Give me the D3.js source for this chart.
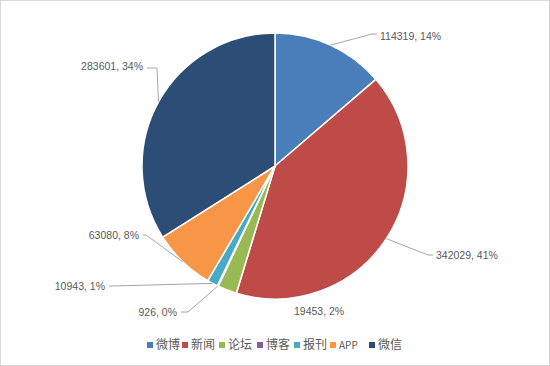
<!DOCTYPE html>
<html><head><meta charset="utf-8">
<script src="https://cdn.jsdelivr.net/npm/d3@7"></script>
<style>
html,body{margin:0;padding:0;background:#fff;}
svg{display:block;}
</style></head>
<body>
<svg id="chart" width="550" height="366"></svg>
<script>
const categories = ["微博","新闻","论坛","博客","报刊","APP","微信"];
const values = [114319, 342029, 19453, 926, 10943, 63080, 283601];
const percents = ["14%","41%","2%","0%","1%","8%","34%"];
const colors = ["#4a7ebb","#be4b48","#98b954","#7d60a0","#46aac4","#f79646","#2c4d75"];

// label layout (text anchor point, elbow point) relative to chart
const labelLayout = [
  {tx:380, ty:36, anchor:"start", elbow:[372,34], line:true},
  {tx:436, ty:255, anchor:"start", elbow:[428,255], line:true},
  {tx:294, ty:311, anchor:"start", elbow:null, line:false},
  {tx:177, ty:312, anchor:"end", elbow:[188,312], line:true},
  {tx:105, ty:286, anchor:"end", elbow:[112,286], line:true},
  {tx:139, ty:235, anchor:"end", elbow:[146,235], line:true},
  {tx:143, ty:66, anchor:"end", elbow:[157,68], line:true}
];

const svg = d3.select("#chart");
svg.append("rect").attr("x",0.5).attr("y",0.5).attr("width",549).attr("height",365)
  .attr("fill","#fff").attr("stroke","#d9d9d9");

const cx = 275, cy = 166, r = 133;
const g = svg.append("g").attr("transform",`translate(${cx},${cy})`);
const pie = d3.pie().sort(null).value(d=>d)(values);
const arc = d3.arc().innerRadius(0).outerRadius(r);

g.selectAll("path.slice").data(pie).enter().append("path")
  .attr("class","slice")
  .attr("d",arc)
  .attr("fill",(d,i)=>colors[i])
  .attr("stroke","#fff").attr("stroke-width",1.5).attr("stroke-linejoin","round");

// leader lines & labels
pie.forEach((d,i)=>{
  const L = labelLayout[i];
  const a = (d.startAngle+d.endAngle)/2;
  const px = cx + r*Math.sin(a), py = cy - r*Math.cos(a);
  if(L.line){
    const ex = L.elbow[0], ey = L.elbow[1];
    const hx = L.anchor==="start" ? L.tx-3 : L.tx+4;
    svg.append("polyline")
      .attr("points",`${px},${py} ${ex},${ey} ${hx},${ey}`)
      .attr("fill","none").attr("stroke","#a6a6a6").attr("stroke-width",1);
  }
  svg.append("text")
    .attr("x",L.tx).attr("y",L.ty).attr("dy","0.35em")
    .attr("text-anchor",L.anchor)
    .attr("font-family","'Liberation Sans', Arial, sans-serif")
    .attr("font-size",10.5).attr("fill","#595959")
    .text(`${values[i]}, ${percents[i]}`);
});

// legend
const legend = svg.append("g");
const legX = [147,182,219,257,294,330,369];
categories.forEach((c,i)=>{
  const lg = legend.append("g").attr("transform",`translate(${legX[i]},345)`);
  lg.append("rect").attr("x",0).attr("y",-3).attr("width",6).attr("height",6).attr("fill",colors[i]);
  lg.append("text").attr("x",9).attr("y",0).attr("dy","0.35em")
    .attr("font-family","'Noto Sans CJK SC', sans-serif")
    .attr("font-size",c==="APP"?10:12).attr("fill","#595959").text(c);
});
</script>
</body></html>
